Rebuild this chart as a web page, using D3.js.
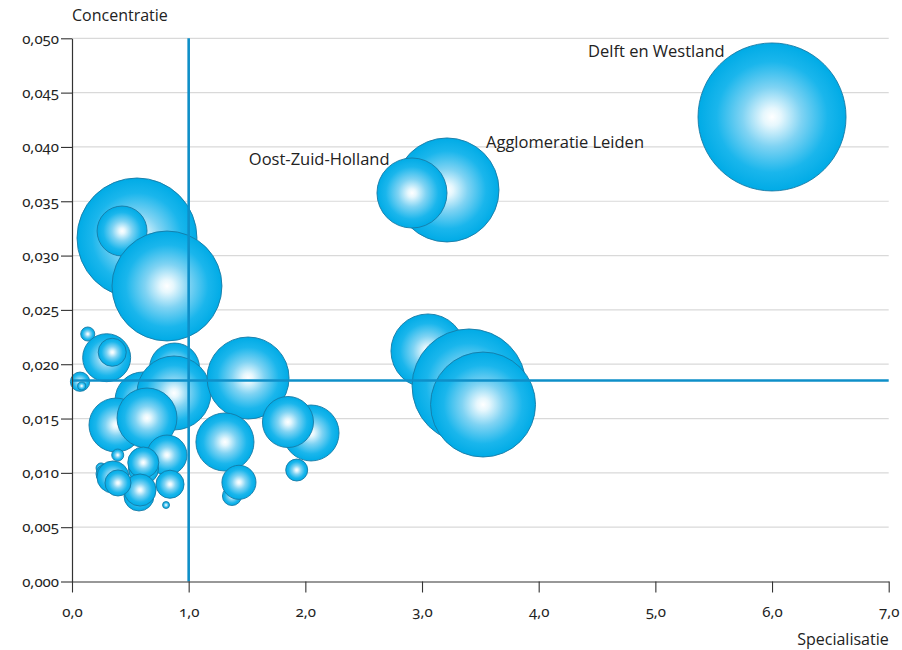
<!DOCTYPE html>
<html lang="nl">
<head>
<meta charset="utf-8">
<script src="https://cdn.jsdelivr.net/npm/d3@7"></script>
<style>
  html, body { margin: 0; padding: 0; background: #ffffff; }
  svg text { font-family: "Open Sans", "Noto Sans", sans-serif; fill: #222; }
  .num { font-family: "Noto Sans", "Open Sans", sans-serif; font-variant-numeric: oldstyle-nums; font-feature-settings: "onum" 1; }
</style>
</head>
<body>
<svg id="chart" width="902" height="650"></svg>
<script>
// Regio's: specialisatie (x), concentratie (y) en omvang (bolgrootte).
// Volgorde = tekenvolgorde (latere bollen liggen bovenop).
const regios = [
  "", "", "", "", "", "", "", "", "", "",
  "", "", "", "", "", "", "", "", "", "",
  "", "", "", "", "", "", "", "", "", "",
  "", "", "", "", "",
  "Agglomeratie Leiden", "Oost-Zuid-Holland", "Delft en Westland"
];
const specialisatie = [
  0.557, 0.429, 0.814, 0.135, 0.297, 0.345, 0.069, 0.083, 0.879, 0.609,
  0.874, 0.377, 0.643, 0.392, 0.814, 0.613, 0.611, 0.574, 0.583, 0.840,
  0.806, 0.249, 0.291, 0.351, 0.394, 1.509, 1.311, 2.049, 1.851, 1.926,
  1.371, 1.431, 3.051, 3.403, 3.523,
  3.214, 2.914, 6.000
];
const concentratie = [
  0.03162, 0.03226, 0.02720, 0.02278, 0.02060, 0.02110, 0.01839, 0.01800, 0.01965, 0.01671,
  0.01735, 0.01440, 0.01505, 0.01164, 0.01164, 0.01036, 0.01095, 0.00787, 0.00842, 0.00895,
  0.00704, 0.01045, 0.00990, 0.00962, 0.00907, 0.01873, 0.01284, 0.01367, 0.01468, 0.01026,
  0.00787, 0.00913, 0.02122, 0.01800, 0.01629,
  0.03604, 0.03576, 0.04276
];
const omvang = [
  65.7, 11.4, 55.2, 0.9, 10.5, 3.6, 1.7, 0.3, 11.4, 14.3,
  25.0, 13.3, 16.4, 0.66, 7.3, 4.1, 4.4, 4.1, 4.7, 3.6,
  0.22, 0.46, 1.8, 4.7, 3.1, 30.7, 15.4, 14.3, 11.9, 2.2,
  1.65, 5.3, 25.0, 59.3, 50.3,
  49.4, 22.4, 100.0
];
// Kant van het label t.o.v. de bol
const labelKant = { "Agglomeratie Leiden": "rechts", "Oost-Zuid-Holland": "links", "Delft en Westland": "links" };

// Referentielijnen (gemiddelden)
const refSpecialisatie = 1.0;
const refConcentratie = 0.0185;

const xTicks = [0, 1, 2, 3, 4, 5, 6, 7];
const yTicks = [0, 0.005, 0.010, 0.015, 0.020, 0.025, 0.030, 0.035, 0.040, 0.045, 0.050];
const xTitel = "Specialisatie";
const yTitel = "Concentratie";

const data = regios.map((naam, i) => ({
  naam, x: specialisatie[i], y: concentratie[i], s: omvang[i]
}));

const svg = d3.select("#chart");
const plotL = 72, plotR = 888.7, plotT = 38.3, plotB = 581.5;

const x = d3.scaleLinear().domain([0, 7]).range([plotL, plotR]);
const y = d3.scaleLinear().domain([0, 0.05]).range([plotB, plotT]);
const r = d3.scaleSqrt().domain([0, 100]).range([0, 74]);

const komma = f => v => d3.format(f)(v).replace(".", ",");

// Bolverloop
const defs = svg.append("defs");
const grad = defs.append("radialGradient").attr("id", "bol")
  .attr("cx", "50%").attr("cy", "50%").attr("r", "50%");
[[0, "#ffffff"], [0.12, "#e6f7fd"], [0.4, "#7fd3f3"], [0.75, "#1ab6ec"], [1, "#00abe6"]]
  .forEach(([o, c]) => grad.append("stop").attr("offset", o).attr("stop-color", c));

// Rasterlijnen
svg.append("g").selectAll("line").data(yTicks.filter(v => v > 0)).join("line")
  .attr("x1", plotL).attr("x2", plotR)
  .attr("y1", d => y(d)).attr("y2", d => y(d))
  .attr("stroke", "#d9d9d9").attr("stroke-width", 1.2);

// Bollen
svg.append("g").selectAll("circle").data(data).join("circle")
  .attr("cx", d => x(d.x)).attr("cy", d => y(d.y)).attr("r", d => r(d.s))
  .attr("fill", "url(#bol)")
  .attr("stroke", "#167aa6").attr("stroke-width", 0.9);

// Referentielijnen
svg.append("line")
  .attr("x1", x(refSpecialisatie)).attr("x2", x(refSpecialisatie))
  .attr("y1", plotT).attr("y2", plotB)
  .attr("stroke", "#0e8fc8").attr("stroke-width", 2.6);
svg.append("line")
  .attr("x1", plotL).attr("x2", plotR)
  .attr("y1", y(refConcentratie)).attr("y2", y(refConcentratie))
  .attr("stroke", "#0e8fc8").attr("stroke-width", 2.6);

// Assen
const yMinor = d3.range(0, 51).map(i => i * 0.001);
const xMinor = d3.range(0, 71).map(i => i * 0.1);

const gy = svg.append("g").attr("transform", `translate(${plotL},0)`);
gy.call(d3.axisLeft(y).tickValues(yMinor).tickSize(6).tickFormat("").tickSizeOuter(0));
gy.call(d3.axisLeft(y).tickValues(yTicks).tickSize(11).tickPadding(2).tickFormat(komma(".3f")).tickSizeOuter(0));

const gx = svg.append("g").attr("transform", `translate(0,${plotB})`);
gx.call(d3.axisBottom(x).tickValues(xMinor).tickSize(5).tickFormat("").tickSizeOuter(0));
gx.call(d3.axisBottom(x).tickValues(xTicks).tickSize(11).tickPadding(14).tickFormat(komma(".1f")).tickSizeOuter(0));

svg.selectAll(".domain").attr("stroke", "#333").attr("stroke-width", 1.2);
svg.selectAll(".tick line").attr("stroke", "#333").attr("stroke-width", 1.1);
svg.selectAll(".tick text").attr("class", "num")
  .style("font-size", "15px").attr("fill", "#222");

// Astitels
svg.append("text").attr("x", plotL).attr("y", 21)
  .style("font-size", "16px").text(yTitel);
svg.append("text").attr("x", plotR).attr("y", 645).attr("text-anchor", "end")
  .style("font-size", "16px").text(xTitel);

// Labels bij de grootste regio's
svg.append("g").selectAll("text").data(data.filter(d => d.naam)).join("text")
  .attr("x", d => labelKant[d.naam] === "rechts"
      ? x(d.x) + 0.75 * r(d.s) : x(d.x) - 0.64 * r(d.s))
  .attr("y", d => y(d.y) - 0.81 * r(d.s))
  .attr("text-anchor", d => labelKant[d.naam] === "rechts" ? "start" : "end")
  .style("font-size", "16.5px")
  .text(d => d.naam);
</script>
</body>
</html>
